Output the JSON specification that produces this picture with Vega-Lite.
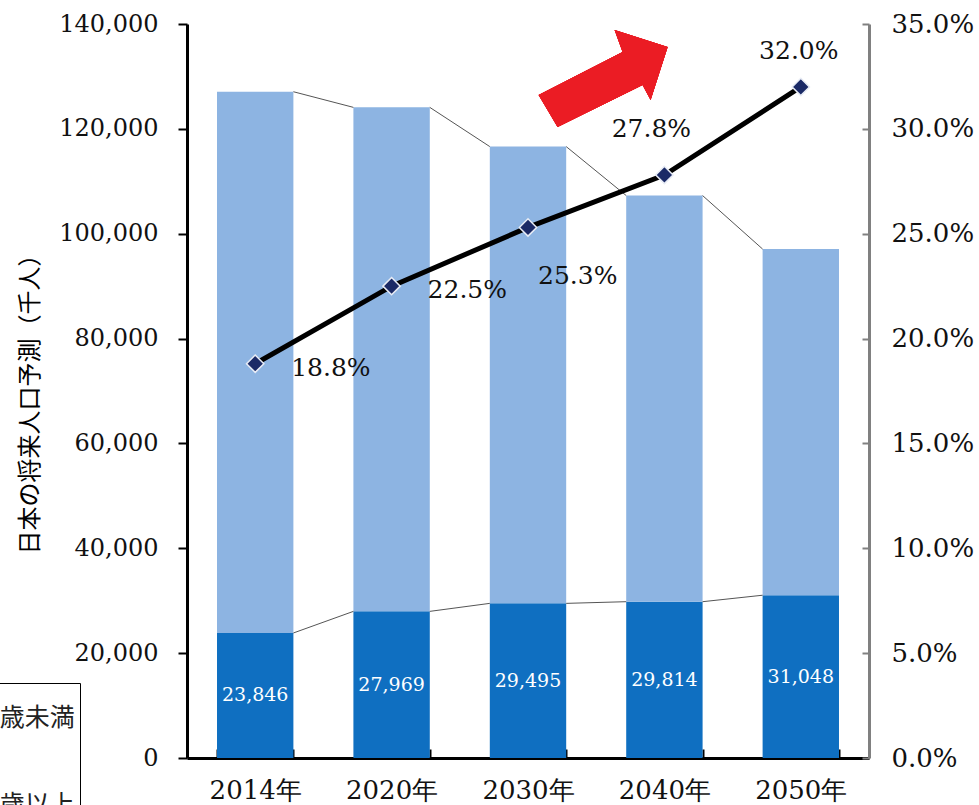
{
  "$schema": "https://vega.github.io/schema/vega-lite/v6.json",
  "width": 682,
  "height": 734,
  "autosize": {"type": "none"},
  "padding": {"left": 187, "top": 24, "right": 110, "bottom": 47},
  "background": "white",
  "config": {
    "view": {"stroke": null},
    "axis": {"grid": false},
    "axisX": {
      "labelAngle": 0,
      "labelFont": "DejaVu Serif",
      "labelFontSize": 26,
      "labelColor": "#111111",
      "domainColor": "black",
      "domainWidth": 3,
      "tickColor": "black",
      "tickWidth": 2,
      "tickSize": -9,
      "tickBand": "extent",
      "labelPadding": 28
    }
  },
  "data": {
    "values": [
      {"year": "2014年", "total": 127083, "elderly": 23846, "rate": 0.188},
      {"year": "2020年", "total": 124100, "elderly": 27969, "rate": 0.225},
      {"year": "2030年", "total": 116618, "elderly": 29495, "rate": 0.253},
      {"year": "2040年", "total": 107276, "elderly": 29814, "rate": 0.278},
      {"year": "2050年", "total": 97076, "elderly": 31048, "rate": 0.32}
    ]
  },
  "encoding": {
    "x": {
      "field": "year",
      "type": "nominal",
      "title": null,
      "scale": {"paddingInner": 0.44, "paddingOuter": 0.22}
    }
  },
  "layer": [
    {
      "layer": [
        {
          "mark": {"type": "bar"},
          "encoding": {
            "y": {
              "field": "elderly",
              "type": "quantitative",
              "title": "日本の将来人口予測（千人）",
              "scale": {"domain": [0, 140000], "nice": false},
              "axis": {
                "values": [0, 20000, 40000, 60000, 80000, 100000, 120000, 140000],
                "format": ",d",
                "labelFont": "DejaVu Serif",
                "labelFontSize": 24,
                "labelColor": "#111111",
                "domainColor": "black",
                "domainWidth": 3,
                "tickColor": "black",
                "tickWidth": 2,
                "tickSize": 9,
                "labelPadding": 20,
                "titleFont": "Noto Sans CJK JP",
                "titleFontSize": 24,
                "titleFontWeight": "normal",
                "titleColor": "black",
                "titleX": -157,
                "titleY": 374,
                "titleAngle": -90,
                "titleAlign": "center",
                "titleBaseline": "middle"
              }
            },
            "color": {
              "datum": "65歳以上",
              "type": "nominal",
              "scale": {"domain": ["65歳未満", "65歳以上"], "range": ["#8db4e2", "#0f6fc1"]},
              "legend": {
                "title": null,
                "orient": "none",
                "legendX": -286,
                "legendY": 659,
                "direction": "vertical",
                "padding": 5,
                "rowPadding": 27,
                "strokeColor": "black",
                "fillColor": "white",
                "symbolType": "square",
                "symbolSize": 3600,
                "symbolStrokeWidth": 0,
                "labelFont": "Noto Sans CJK JP",
                "labelFontSize": 25,
                "labelColor": "#222222",
                "labelOffset": 6
              }
            }
          }
        },
        {
          "mark": {"type": "bar"},
          "encoding": {
            "y": {"field": "total", "type": "quantitative"},
            "y2": {"field": "elderly"},
            "color": {"datum": "65歳未満", "type": "nominal"}
          }
        },
        {
          "transform": [
            {
              "window": [
                {"op": "lead", "field": "year", "as": "nextYear"},
                {"op": "lead", "field": "total", "as": "nextTotal"},
                {"op": "lead", "field": "elderly", "as": "nextElderly"}
              ],
              "sort": [{"field": "year"}]
            },
            {"filter": "datum.nextYear != null"}
          ],
          "layer": [
            {
              "mark": {"type": "rule", "color": "#555555", "strokeWidth": 1},
              "encoding": {
                "x": {"field": "year", "type": "nominal", "title": null, "bandPosition": 1},
                "x2": {"field": "nextYear", "bandPosition": 0},
                "y": {"field": "total", "type": "quantitative"},
                "y2": {"field": "nextTotal"}
              }
            },
            {
              "mark": {"type": "rule", "color": "#555555", "strokeWidth": 1},
              "encoding": {
                "x": {"field": "year", "type": "nominal", "title": null, "bandPosition": 1},
                "x2": {"field": "nextYear", "bandPosition": 0},
                "y": {"field": "elderly", "type": "quantitative"},
                "y2": {"field": "nextElderly"}
              }
            }
          ]
        },
        {
          "mark": {
            "type": "point",
            "shape": "M-1,0.262L0.292,-0.4L0.169,-0.738L0.985,-0.477L0.723,0.338L0.6,0.108L-0.708,0.754Z",
            "filled": true,
            "fill": "#eb1c24",
            "size": 16900,
            "opacity": 1,
            "strokeWidth": 0
          },
          "encoding": {
            "x": {"datum": "2030年", "type": "nominal", "title": null, "bandPosition": 1.49},
            "y": {"datum": 129700, "type": "quantitative"}
          }
        }
      ]
    },
    {
      "mark": {"type": "text", "color": "white", "font": "DejaVu Serif", "fontSize": 19, "baseline": "middle"},
      "encoding": {
        "y": {"field": "elderly", "type": "quantitative", "scale": {"domain": [0, 280000], "nice": false}, "axis": null},
        "text": {"field": "elderly", "type": "quantitative", "format": ","}
      }
    },
    {
      "encoding": {
        "y": {
          "field": "rate",
          "type": "quantitative",
          "scale": {"domain": [0, 0.35], "nice": false},
          "axis": {
            "orient": "right",
            "title": null,
            "values": [0, 0.05, 0.1, 0.15, 0.2, 0.25, 0.3, 0.35],
            "format": ".1%",
            "labelFont": "DejaVu Serif",
            "labelFontSize": 26,
            "labelColor": "#111111",
            "domainColor": "#808080",
            "domainWidth": 3,
            "tickColor": "#808080",
            "tickWidth": 2,
            "tickSize": -7,
            "labelPadding": 29
          }
        }
      },
      "layer": [
        {"mark": {"type": "line", "color": "black", "strokeWidth": 5}, "encoding": {}},
        {
          "mark": {"type": "point", "shape": "diamond", "filled": true, "fill": "#1b2a66", "stroke": "#e8ecf5", "strokeWidth": 1.5, "size": 300, "opacity": 1},
          "encoding": {}
        },
        {
          "transform": [{"filter": "datum.year == '2014年' || datum.year == '2020年'"}],
          "mark": {"type": "text", "align": "left", "baseline": "middle", "dx": 36, "dy": 4, "font": "DejaVu Serif", "fontSize": 25, "color": "#111111"},
          "encoding": {"text": {"field": "rate", "type": "quantitative", "format": ".1%"}}
        },
        {
          "transform": [{"filter": "datum.year == '2030年'"}],
          "mark": {"type": "text", "align": "left", "baseline": "middle", "dx": 10, "dy": 49, "font": "DejaVu Serif", "fontSize": 25, "color": "#111111"},
          "encoding": {"text": {"field": "rate", "type": "quantitative", "format": ".1%"}}
        },
        {
          "transform": [{"filter": "datum.year == '2040年'"}],
          "mark": {"type": "text", "align": "center", "baseline": "middle", "dx": -13, "dy": -46, "font": "DejaVu Serif", "fontSize": 25, "color": "#111111"},
          "encoding": {"text": {"field": "rate", "type": "quantitative", "format": ".1%"}}
        },
        {
          "transform": [{"filter": "datum.year == '2050年'"}],
          "mark": {"type": "text", "align": "center", "baseline": "middle", "dx": -2, "dy": -36, "font": "DejaVu Serif", "fontSize": 25, "color": "#111111"},
          "encoding": {"text": {"field": "rate", "type": "quantitative", "format": ".1%"}}
        }
      ]
    }
  ],
  "resolve": {"scale": {"y": "independent"}}
}
